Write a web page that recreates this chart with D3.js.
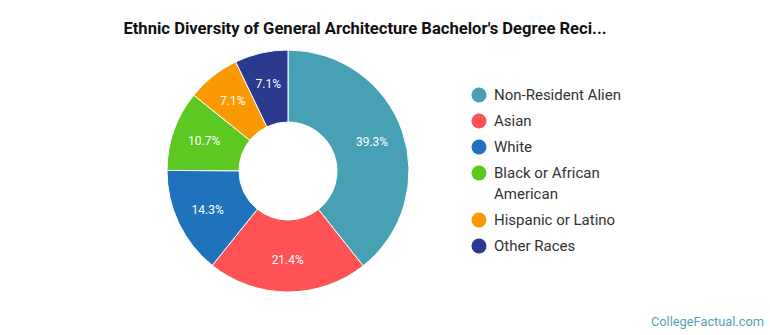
<!DOCTYPE html>
<html>
<head>
<meta charset="utf-8">
<script src="https://cdn.jsdelivr.net/npm/d3@7"></script>
<style>
  body { margin: 0; background: #fff; }
  svg { display: block; font-family: Roboto, "Open Sans", sans-serif; }
</style>
</head>
<body>
<svg id="chart" width="770" height="335"></svg>
<script>
// data
var categories = ["Non-Resident Alien", "Asian", "White", "Black or African American",
  "Hispanic or Latino", "Other Races"];
var shares = [39.3, 21.4, 14.3, 10.7, 7.1, 7.1];
var colours = ["#48a0b4", "#fe5254", "#1f73bc", "#5ec823", "#fb9903", "#293a8f"];
var titleText = "Ethnic Diversity of General Architecture Bachelor's Degree Reci...";
var footerText = "CollegeFactual.com";

var svg = d3.select("#chart"),
  cx = 288, cy = 171,
  outerR = 121, innerR = 49, labelR = 89;

svg.append("text")
  .attr("x", 365)
  .attr("y", 34)
  .attr("text-anchor", "middle")
  .attr("font-size", "16.6px")
  .attr("font-weight", "bold")
  .attr("fill", "#111")
  .text(titleText);

var rows = categories.map(function (c, i) {
  return { name: c, value: shares[i], colour: colours[i] };
});

var pie = d3.pie()
  .sort(null)
  .value(function (d) { return d.value; });

var arc = d3.arc().innerRadius(innerR).outerRadius(outerR),
  labelArc = d3.arc().innerRadius(labelR).outerRadius(labelR);

var g = svg.append("g").attr("transform", "translate(" + cx + "," + cy + ")");

var slices = g.selectAll(".slice")
  .data(pie(rows))
  .enter()
  .append("g")
  .attr("class", "slice");

slices.append("path")
  .attr("d", arc)
  .attr("fill", function (d) { return d.data.colour; })
  .attr("stroke", "#fff")
  .attr("stroke-width", 1);

slices.append("text")
  .attr("transform", function (d) {
    var p = labelArc.centroid(d);
    return "translate(" + p[0] + "," + p[1] + ")";
  })
  .attr("text-anchor", "middle")
  .attr("dy", "0.35em")
  .attr("font-size", "12px")
  .attr("fill", "#fff")
  .text(function (d) { return d.data.value.toFixed(1) + "%"; });

// legend, with long names wrapped onto a second line
var legend = svg.append("g").attr("transform", "translate(479,95)"),
  lineH = 21,
  y = 0;

rows.forEach(function (r) {
  var item = legend.append("g").attr("transform", "translate(0," + y + ")");
  item.append("circle")
    .attr("r", 7.5)
    .attr("fill", r.colour);
  var t = item.append("text")
    .attr("x", 15)
    .attr("dy", "0.35em")
    .attr("font-size", "15px")
    .attr("fill", "#333");
  var words = r.name.split(" "),
    line = [],
    tspan = t.append("tspan").attr("x", 15),
    lines = 1;
  words.forEach(function (w) {
    line.push(w);
    tspan.text(line.join(" "));
    if (tspan.node().getComputedTextLength() > 160 && line.length > 1) {
      line.pop();
      tspan.text(line.join(" "));
      line = [w];
      tspan = t.append("tspan").attr("x", 15).attr("dy", lineH).text(w);
      lines++;
    }
  });
  y += 26 + (lines - 1) * lineH;
});

svg.append("text")
  .attr("x", 764)
  .attr("y", 326)
  .attr("text-anchor", "end")
  .attr("font-size", "12.8px")
  .attr("fill", "#5a9fb6")
  .text(footerText);
</script>
</body>
</html>
